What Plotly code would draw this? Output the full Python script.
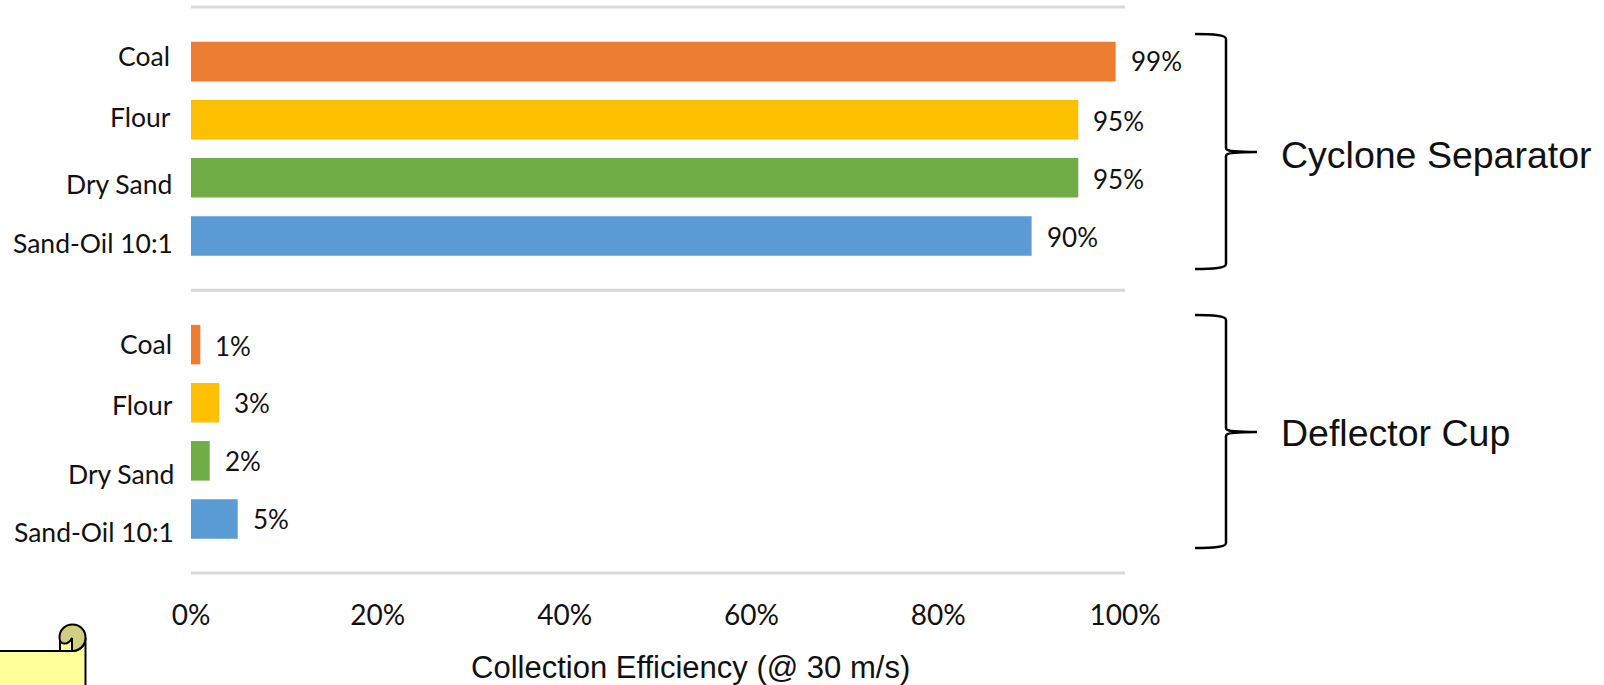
import plotly.graph_objects as go

# Data
materials = ["Coal", "Flour", "Dry Sand", "Sand-Oil 10:1"]
cyclone_values = [99, 95, 95, 90]
deflector_values = [1, 3, 2, 5]
group_names = ["Cyclone Separator", "Deflector Cup"]
x_ticks = [0, 20, 40, 60, 80, 100]
x_title = "Collection Efficiency (@ 30 m/s)"

# Styling
bar_colors = ["#ED7D31", "#FFC000", "#70AD47", "#5B9BD5"]
W, H = 1604, 685
# Plot area is a few pixels taller than the separators so their strokes are not clipped
PAD = 5
L, R, T, B = 191, 1125, 7 - PAD, 573 + PAD
LABEL_FONT = "Lato"
SHAPE_FONT = "Liberation Sans"
LABEL_SIZE = 26.5
VALUE_SIZE = 26
TICK_SIZE = 28
UNIT_PX = 58


def px(x):
    return (x - L) / (R - L)


def py(y):
    return (B - y) / (B - T)


def path(*cmds):
    # Each command is (letter, x, y, ...) in page pixels
    out = []
    for c in cmds:
        nums = c[1:]
        pts = [f"{px(nums[i]):.5f},{py(nums[i + 1]):.5f}" for i in range(0, len(nums), 2)]
        out.append(c[0] + " ".join(pts))
    return " ".join(out)


# Row positions: one unit per bar slot, with a wider gap between the two groups
group_gap = 1.87
rows_top = [float(i) for i in range(len(materials))]
rows_bottom = [i + len(materials) - 1 + group_gap for i in range(len(materials))]
rows = rows_top + rows_bottom
values = cyclone_values + deflector_values
labels = materials + materials
colors = bar_colors + bar_colors

fig = go.Figure(
    go.Bar(
        x=values,
        y=rows,
        orientation="h",
        width=0.68,
        marker=dict(color=colors, line=dict(width=0)),
        hoverinfo="skip",
    )
)

# Group separators
sep_top = rows_top[0] - 0.94
sep_mid = (rows_top[-1] + rows_bottom[0]) / 2
sep_bottom = rows_bottom[-1] + 0.93
shapes = [
    dict(type="line", xref="x", yref="y", x0=0, x1=100, y0=s, y1=s,
         line=dict(color="#D9D9D9", width=3), layer="below")
    for s in (sep_top, sep_mid, sep_bottom)
]


def brace(x_left, x_mid, x_tip, y_top, y_mid, y_bottom):
    return dict(
        type="path", xref="paper", yref="paper",
        line=dict(color="#000000", width=2.5),
        path=path(
            ("M", x_left, y_top),
            ("C", x_left + 18, y_top, x_mid, y_top + 1, x_mid, y_top + 5),
            ("L", x_mid, y_mid - 4),
            ("C", x_mid, y_mid - 1, x_mid + 6, y_mid, x_tip, y_mid),
            ("C", x_mid + 6, y_mid, x_mid, y_mid + 1, x_mid, y_mid + 4),
            ("L", x_mid, y_bottom - 5),
            ("C", x_mid, y_bottom - 1, x_left + 18, y_bottom, x_left, y_bottom),
        ),
    )


shapes.append(brace(1195, 1226, 1257, 34, 152, 269))
shapes.append(brace(1195, 1226, 1257, 315, 432, 548))

# Note icon in the lower-left corner
shapes += [
    dict(type="path", xref="paper", yref="paper", fillcolor="#FFFF99",
         line=dict(color="#000000", width=2),
         path=path(("M", -5, 651), ("L", 73, 651),
                   ("C", 80, 651, 85.5, 645, 85.5, 638),
                   ("L", 85.5, 690), ("L", -5, 690), ("Z",))),
    dict(type="path", xref="paper", yref="paper", fillcolor="#FFFF99",
         line=dict(color="#000000", width=2),
         path=path(("M", 60, 651), ("L", 60, 639), ("L", 72, 639), ("L", 72, 651), ("Z",))),
    dict(type="path", xref="paper", yref="paper", fillcolor="#CFCF7F",
         line=dict(color="#000000", width=2),
         path=path(("M", 72, 651),
                   ("C", 80, 651, 85.5, 645, 85.5, 637.5),
                   ("C", 85.5, 630, 80, 624.5, 72.5, 624.5),
                   ("C", 65, 624.5, 59.5, 630, 59.5, 637.5),
                   ("C", 59.5, 645, 68, 646, 72, 638),
                   ("L", 72, 651), ("Z",))),
]

# Value labels, category labels and side notes
label_nudge = [-6, -3, 6, 7, -1, 2, 13, 13]
label_right = [170, 171, 172, 173, 172, 173, 174, 174]
value_nudge = [-1, 1, 1, 1, 1, 0, 0, 0]
annotations = []
for row, val, lab, dy, right, vdy in zip(rows, values, labels, label_nudge, label_right, value_nudge):
    annotations.append(dict(
        x=val, y=row, xref="x", yref="y", text=f"{val}%", showarrow=False,
        xanchor="left", xshift=13, yshift=-vdy,
        font=dict(family=LABEL_FONT, size=VALUE_SIZE, color="#111111"),
    ))
    annotations.append(dict(
        x=px(right), y=row, xref="paper", yref="y", text=lab, showarrow=False,
        xanchor="right", xshift=2, yshift=-dy,
        font=dict(family=LABEL_FONT, size=LABEL_SIZE, color="#111111"),
    ))

for name, yc in zip(group_names, (155, 433)):
    annotations.append(dict(
        x=px(1279), y=py(yc), xref="paper", yref="paper", text=name, showarrow=False,
        xanchor="left", yanchor="middle", font=dict(family=SHAPE_FONT, size=37.5, color="#111111"),
    ))
annotations.append(dict(
    x=px(690), y=py(667), xref="paper", yref="paper", text=x_title, showarrow=False,
    xanchor="center", yanchor="middle",
    font=dict(family=SHAPE_FONT, size=31, color="#111111"),
))

fig.update_layout(
    width=W, height=H,
    margin=dict(l=L, r=W - R, t=T, b=H - B, pad=0),
    paper_bgcolor="#FFFFFF", plot_bgcolor="#FFFFFF",
    showlegend=False,
    shapes=shapes,
    annotations=annotations,
    xaxis=dict(
        range=[0, 100], tickmode="array", tickvals=x_ticks,
        ticktext=[f"{t}%" for t in x_ticks], showgrid=False, zeroline=False,
        showline=False, ticks="outside", ticklen=12, tickcolor="rgba(0,0,0,0)",
        tickfont=dict(family=LABEL_FONT, size=TICK_SIZE, color="#111111"),
    ),
    yaxis=dict(
        range=[sep_bottom + PAD / UNIT_PX, sep_top - PAD / UNIT_PX],
        showticklabels=False, showgrid=False,
        zeroline=False, showline=False, ticks="",
    ),
)

fig.write_html("out.html", config={"displayModeBar": False})
